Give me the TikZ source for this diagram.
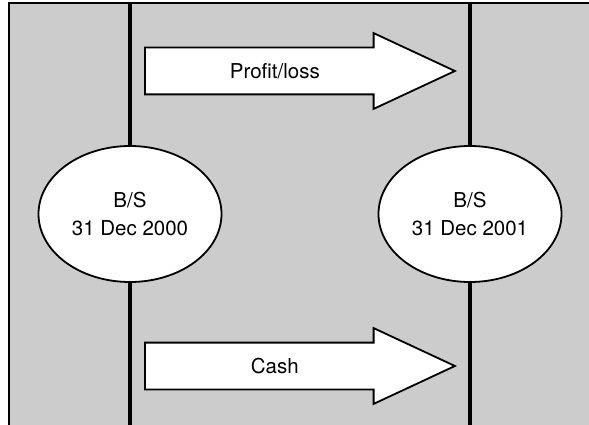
\documentclass[tikz,border=0pt]{standalone}
\usepackage{fontspec}
\setmainfont{TeX Gyre Heros}
\usetikzlibrary{shapes.geometric, shapes.arrows}

\begin{document}
\begin{tikzpicture}[x=1pt, y=-1pt,
  every node/.style = {font=\fontsize{20.5}{25}\selectfont},
  bsheet/.style = {shape=ellipse, draw, line width=1.8pt, fill=white,
    align=center, minimum width=183pt, minimum height=136pt, inner sep=0pt},
  flow/.style = {shape=single arrow, draw, line width=1.8pt, fill=white,
    anchor=tail, minimum height=310pt, inner xsep=0pt, inner ysep=0pt,
    text height=30pt, text depth=15pt,
    single arrow head extend=14.5pt, single arrow tip angle=50},
  divider/.style = {line width=3.6pt}]
  \useasboundingbox (0,0) rectangle (589,425);
  \fill[gray!40] (9,3.5) rectangle (589,425);
  \draw[line width=2pt] (9,425) -- (9,3.5) -- (589,3.5);

  \coordinate (top0) at (130,4.5);
  \coordinate (bot0) at (130,425);
  \coordinate (top1) at (470,4.5);
  \coordinate (bot1) at (470,425);

  \node[bsheet] (bs0) at (130,214) {B/S\\[3pt]31 Dec 2000};
  \node[bsheet] (bs1) at (470,214) {B/S\\[3pt]31 Dec 2001};

  \draw[divider] (top0) -- (bs0.north);
  \draw[divider] (bs0.south) -- (bot0);
  \draw[divider] (top1) -- (bs1.north);
  \draw[divider] (bs1.south) -- (bot1);

  \node[flow] (profit) at (144,71) {Profit/loss};
  \node[flow] (cash) at (144,366) {Cash};
\end{tikzpicture}
\end{document}
